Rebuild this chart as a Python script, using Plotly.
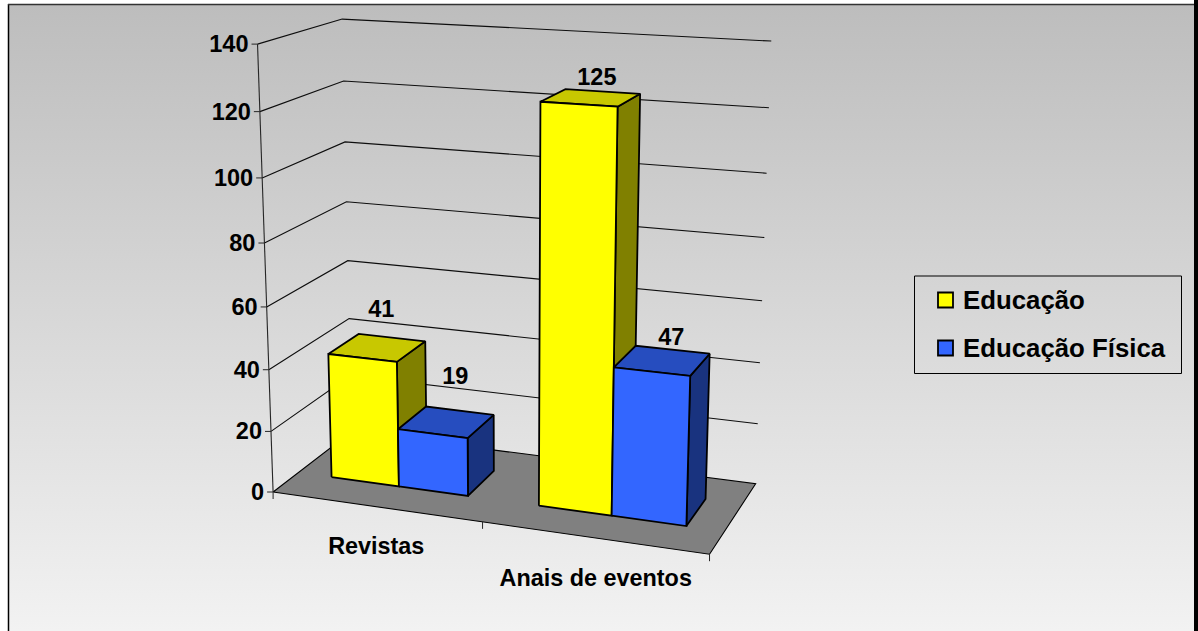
import numpy as np
import plotly.graph_objects as go

# Chart data
categories = ["Revistas", "Anais de eventos"]
series_names = ["Educação", "Educação Física"]
educacao = [41, 125]
educacao_fisica = [19, 47]
axis_ticks = [0, 20, 40, 60, 80, 100, 120, 140]
axis_max = 140

# Per-series face colours: front, top, side
face_colors = [("#ffff00", "#c8c800", "#808000"), ("#3366ff", "#264dbf", "#19337f")]

# Pixel nudges for the value labels, same order as the series values
label_nudges = [[(4, -36), (6, -19)], [(9, -44), (9, -21)]]

# Category label offsets below the front edge of the floor
category_nudges = [(0.5, 42), (2, 42.5)]

# Camera of the 3-D box: (across, depth, height) in 0..1 -> page pixels
CAMERA = np.array([
    [381.67414, 110.01758, -31.31671, 273.10387],
    [19.41903, -21.81141, -450.58035, 492.00855],
    [-0.07717, 0.08927, -0.0611, 1.0],
])
FONT = "Liberation Sans"
INK = "#000000"
GRID = "#0d0d0d"


def project(u, d, value):
    p = CAMERA @ np.array([u, d, value / axis_max, 1.0])
    return p[0] / p[2], p[1] / p[2]


def polyline(corners):
    pts = [project(*c) for c in corners]
    return [p[0] for p in pts], [p[1] for p in pts]


fig = go.Figure()


def add_line(corners, color=GRID, width=1.1):
    xs, ys = polyline(corners)
    fig.add_trace(go.Scatter(x=xs, y=ys, mode="lines", showlegend=False, hoverinfo="skip",
                             line=dict(color=color, width=width)))


def add_face(corners, fill, width=1.8):
    xs, ys = polyline(corners + corners[:1])
    fig.add_trace(go.Scatter(x=xs, y=ys, mode="lines", fill="toself", fillcolor=fill,
                             showlegend=False, hoverinfo="skip",
                             line=dict(color=INK, width=width)))


def add_text(xs, ys, texts, size, position="middle center"):
    fig.add_trace(go.Scatter(x=xs, y=ys, mode="text", text=texts, textposition=position,
                             showlegend=False, hoverinfo="skip",
                             textfont=dict(family=FONT, size=size, color=INK, weight=700)))


# Chart area with its vertical grey gradient
fig.add_trace(go.Scatter(
    x=[8, 1194, 1194, 8, 8], y=[5, 5, 631, 631, 5], mode="lines", fill="toself",
    fillgradient=dict(type="vertical", start=5, stop=631,
                      colorscale=[[0, "#bdbdbd"], [1, "#f2f2f2"]]),
    line=dict(width=0), showlegend=False, hoverinfo="skip"))

# Gridlines run along the left wall and then the back wall
for tick in axis_ticks[1:]:
    add_line([(0, 0, tick), (0, 1, tick), (1, 1, tick)])

# Floor
add_face([(0, 0, 0), (1, 0, 0), (1, 1, 0), (0, 1, 0)], "#808080", width=1.1)

# Value axis with its tick marks
add_line([(0, 0, 0), (0, 0, axis_max)], color="#262626", width=1.1)
tick_x, tick_y = [], []
for tick in axis_ticks:
    x, y = project(0, 0, tick)
    fig.add_shape(type="line", x0=x - 6, x1=x, y0=y, y1=y, line=dict(color="#262626", width=1))
    tick_x.append(x - 9)
    tick_y.append(y + 2)
add_text(tick_x, tick_y, [str(t) for t in axis_ticks], 23.5, "middle left")

# Category axis ticks and labels
for u in [0, 0.5, 1]:
    x, y = project(u, 0, 0)
    fig.add_shape(type="line", x0=x, x1=x, y0=y, y1=y + 7, line=dict(color="#262626", width=1))
cat_x, cat_y = [], []
for i in range(len(categories)):
    x, y = project((i + 0.5) / 2, 0, 0)
    cat_x.append(x + category_nudges[i][0])
    cat_y.append(y + category_nudges[i][1])
add_text(cat_x, cat_y, categories, 23.4)

# Bars, back to front within each category
D0, D1 = 0.305, 0.695
for i in range(len(categories)):
    for s, values in enumerate([educacao, educacao_fisica]):
        v = values[i]
        u0 = (i + 1 / 6 + s / 3) / 2
        u1 = (i + 1 / 6 + (s + 1) / 3) / 2
        front, top, side = face_colors[s]
        add_face([(u1, D0, 0), (u1, D1, 0), (u1, D1, v), (u1, D0, v)], side)
        add_face([(u0, D0, v), (u1, D0, v), (u1, D1, v), (u0, D1, v)], top)
        add_face([(u0, D0, 0), (u1, D0, 0), (u1, D0, v), (u0, D0, v)], front)

# Value labels above the bars
lab_x, lab_y, lab_text = [], [], []
for s, values in enumerate([educacao, educacao_fisica]):
    for i, v in enumerate(values):
        u = (i + 1 / 6 + (s + 0.5) / 3) / 2
        x, y = project(u, 0.5, v)
        lab_x.append(x + label_nudges[s][i][0])
        lab_y.append(y + label_nudges[s][i][1])
        lab_text.append(str(v))
add_text(lab_x, lab_y, lab_text, 23.5)

# Legend box with colour keys and series names
fig.add_shape(type="rect", x0=914.5, x1=1181.5, y0=276, y1=373.5,
              line=dict(color="#000000", width=1), fillcolor="rgba(0,0,0,0)")
fig.add_trace(go.Scatter(x=[945.5, 945.5], y=[300, 348], mode="markers", showlegend=False, hoverinfo="skip",
                         marker=dict(symbol="square", size=15, color=[c[0] for c in face_colors],
                                     line=dict(color=INK, width=1.8))))
add_text([963, 963], [303, 351], series_names, 25.8, "middle right")

# Frame edges of the chart area
fig.add_shape(type="line", x0=8.5, x1=8.5, y0=4, y1=631, line=dict(color="#000000", width=1.5))
fig.add_shape(type="line", x0=8, x1=1194, y0=4.5, y1=4.5, line=dict(color="#333333", width=1.5))
fig.add_shape(type="rect", x0=1194, x1=1198, y0=0, y1=631, fillcolor="#000000", line=dict(width=0))

fig.update_layout(
    width=1198, height=631, margin=dict(l=0, r=0, t=0, b=0),
    paper_bgcolor="#ffffff", plot_bgcolor="rgba(0,0,0,0)", showlegend=False,
    xaxis=dict(range=[0, 1198], visible=False, fixedrange=True),
    yaxis=dict(range=[631, 0], visible=False, fixedrange=True),
)

fig.write_html("out.html")
